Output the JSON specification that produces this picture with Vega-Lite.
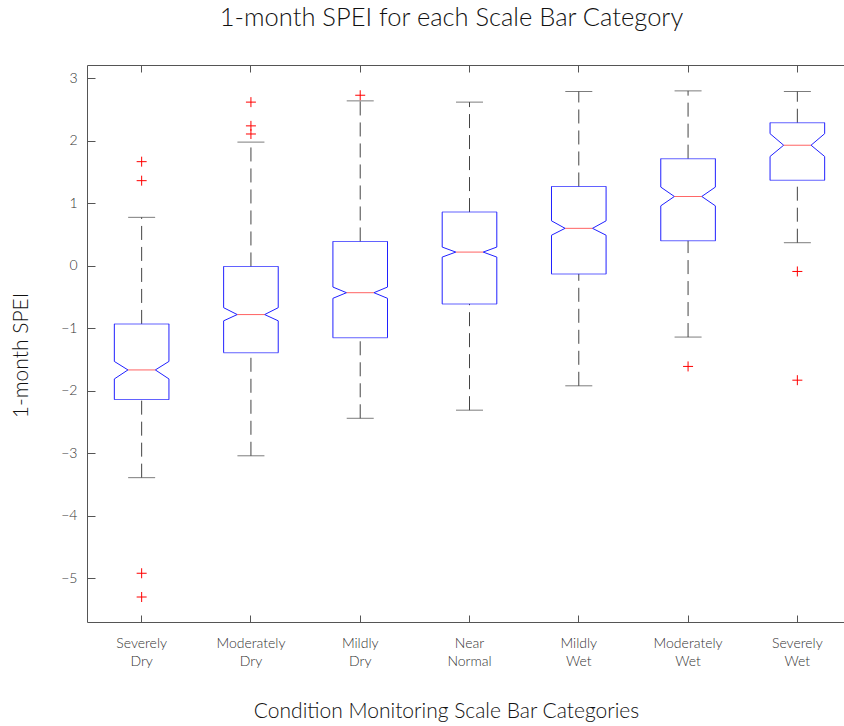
{
  "$schema": "https://vega.github.io/schema/vega-lite/v6.json",
  "autosize": {"type": "none"},
  "padding": {"left": 87, "top": 65, "right": 0, "bottom": 104},
  "width": 765,
  "height": 557,
  "background": "white",
  "title": {"text": "1-month SPEI for each Scale Bar Category", "font": "Lato", "fontSize": 25.5, "fontWeight": 300, "color": "#111", "anchor": "middle", "dx": -18, "baseline": "alphabetic", "offset": 13},
  "config": {
    "view": {"stroke": null},
    "axis": {"grid": false, "domainColor": "#555", "tickColor": "#555", "labelColor": "#333", "labelFont": "Lato", "titleFont": "Lato", "labelFontWeight": 300, "titleFontWeight": 300, "titleColor": "#111"}
  },
  "datasets": {
    "stats": [
      {"cat": "Severely Dry", "lo": -3.39, "q1": -2.14, "nlo": -1.81, "med": -1.666, "nhi": -1.53, "q3": -0.93, "hi": 0.776},
      {"cat": "Moderately Dry", "lo": -3.04, "q1": -1.39, "nlo": -0.88, "med": -0.78, "nhi": -0.67, "q3": -0.01, "hi": 1.98},
      {"cat": "Mildly Dry", "lo": -2.44, "q1": -1.15, "nlo": -0.52, "med": -0.43, "nhi": -0.34, "q3": 0.39, "hi": 2.64},
      {"cat": "Near Normal", "lo": -2.31, "q1": -0.61, "nlo": 0.14, "med": 0.22, "nhi": 0.3, "q3": 0.86, "hi": 2.62},
      {"cat": "Mildly Wet", "lo": -1.92, "q1": -0.13, "nlo": 0.49, "med": 0.6, "nhi": 0.72, "q3": 1.27, "hi": 2.79},
      {"cat": "Moderately Wet", "lo": -1.14, "q1": 0.4, "nlo": 0.96, "med": 1.11, "nhi": 1.26, "q3": 1.715, "hi": 2.8},
      {"cat": "Severely Wet", "lo": 0.37, "q1": 1.37, "nlo": 1.75, "med": 1.93, "nhi": 2.115, "q3": 2.29, "hi": 2.79}
    ],
    "outliers": [
      {"cat": "Severely Dry", "v": 1.667},
      {"cat": "Severely Dry", "v": 1.363},
      {"cat": "Severely Dry", "v": -4.92},
      {"cat": "Severely Dry", "v": -5.3},
      {"cat": "Moderately Dry", "v": 2.62},
      {"cat": "Moderately Dry", "v": 2.24},
      {"cat": "Moderately Dry", "v": 2.11},
      {"cat": "Mildly Dry", "v": 2.73},
      {"cat": "Moderately Wet", "v": -1.61},
      {"cat": "Severely Wet", "v": -0.09},
      {"cat": "Severely Wet", "v": -1.83}
    ]
  },
  "data": {"name": "stats"},
  "layer": [
    {
      "mark": {"type": "rule", "color": "#444", "strokeWidth": 1, "strokeDash": [14, 7]},
      "encoding": {
        "x": {"field": "cat", "type": "nominal", "sort": null, "scale": {"paddingInner": 0, "paddingOuter": 0},
          "axis": {"orient": "bottom", "labelExpr": "split(datum.label, ' ')", "labelAngle": 0, "labelBaseline": "top", "labelLineHeight": 18, "labelFontSize": 14, "tickSize": -7, "labelPadding": 21, "title": "Condition Monitoring Scale Bar Categories", "titleFontSize": 21, "titleX": 359, "titleY": 95, "titleBaseline": "alphabetic", "titleAlign": "center"}},
        "y": {"field": "q3", "type": "quantitative", "scale": {"domain": [-5.7, 3.214], "nice": false, "zero": false},
          "axis": {"orient": "left", "values": [-5, -4, -3, -2, -1, 0, 1, 2, 3], "tickSize": -8, "labelPadding": 18, "labelFontSize": 14, "title": "1-month SPEI", "titleFontSize": 21, "titleAngle": -90, "titleX": -66, "titleY": 290, "titleBaseline": "middle", "titleAlign": "center"}},
        "y2": {"field": "hi"}
      }
    },
    {
      "mark": {"type": "rule", "color": "#444", "strokeWidth": 1, "strokeDash": [14, 7]},
      "encoding": {
        "x": {"field": "cat", "type": "nominal", "sort": null, "axis": null},
        "y": {"field": "lo", "type": "quantitative", "axis": null},
        "y2": {"field": "q1"}
      }
    },
    {
      "mark": {"type": "tick", "color": "#444", "size": 27, "thickness": 1},
      "encoding": {
        "x": {"field": "cat", "type": "nominal", "sort": null,
          "axis": {"orient": "top", "labels": false, "tickSize": -7, "title": null, "labelAngle": 0}},
        "y": {"field": "hi", "type": "quantitative",
          "axis": {"orient": "right", "labels": false, "tickSize": -8, "values": [-5, -4, -3, -2, -1, 0, 1, 2, 3], "title": null}}
      }
    },
    {
      "mark": {"type": "tick", "color": "#444", "size": 27, "thickness": 1},
      "encoding": {
        "x": {"field": "cat", "type": "nominal", "sort": null, "axis": null},
        "y": {"field": "lo", "type": "quantitative", "axis": null}
      }
    },
    {
      "mark": {"type": "tick", "color": "#2020ff", "size": 55, "thickness": 1},
      "encoding": {
        "x": {"field": "cat", "type": "nominal", "sort": null, "axis": null},
        "y": {"field": "q3", "type": "quantitative", "axis": null}
      }
    },
    {
      "mark": {"type": "tick", "color": "#2020ff", "size": 55, "thickness": 1},
      "encoding": {
        "x": {"field": "cat", "type": "nominal", "sort": null, "axis": null},
        "y": {"field": "q1", "type": "quantitative", "axis": null}
      }
    },
    {
      "mark": {"type": "rule", "color": "#2020ff", "strokeWidth": 1, "xOffset": -27.3},
      "encoding": {
        "x": {"field": "cat", "type": "nominal", "sort": null, "axis": null},
        "y": {"field": "q3", "type": "quantitative", "axis": null},
        "y2": {"field": "nhi"}
      }
    },
    {
      "mark": {"type": "rule", "color": "#2020ff", "strokeWidth": 1, "xOffset": 27.3},
      "encoding": {
        "x": {"field": "cat", "type": "nominal", "sort": null, "axis": null},
        "y": {"field": "q3", "type": "quantitative", "axis": null},
        "y2": {"field": "nhi"}
      }
    },
    {
      "mark": {"type": "rule", "color": "#2020ff", "strokeWidth": 1, "xOffset": -27.3},
      "encoding": {
        "x": {"field": "cat", "type": "nominal", "sort": null, "axis": null},
        "y": {"field": "nlo", "type": "quantitative", "axis": null},
        "y2": {"field": "q1"}
      }
    },
    {
      "mark": {"type": "rule", "color": "#2020ff", "strokeWidth": 1, "xOffset": 27.3},
      "encoding": {
        "x": {"field": "cat", "type": "nominal", "sort": null, "axis": null},
        "y": {"field": "nlo", "type": "quantitative", "axis": null},
        "y2": {"field": "q1"}
      }
    },
    {
      "mark": {"type": "rule", "color": "#2020ff", "strokeWidth": 1, "xOffset": -27.3, "x2Offset": -13.7},
      "encoding": {
        "x": {"field": "cat", "type": "nominal", "sort": null, "axis": null},
        "x2": {"field": "cat"},
        "y": {"field": "nhi", "type": "quantitative", "axis": null},
        "y2": {"field": "med"}
      }
    },
    {
      "mark": {"type": "rule", "color": "#2020ff", "strokeWidth": 1, "xOffset": 27.3, "x2Offset": 13.7},
      "encoding": {
        "x": {"field": "cat", "type": "nominal", "sort": null, "axis": null},
        "x2": {"field": "cat"},
        "y": {"field": "nhi", "type": "quantitative", "axis": null},
        "y2": {"field": "med"}
      }
    },
    {
      "mark": {"type": "rule", "color": "#2020ff", "strokeWidth": 1, "xOffset": -27.3, "x2Offset": -13.7},
      "encoding": {
        "x": {"field": "cat", "type": "nominal", "sort": null, "axis": null},
        "x2": {"field": "cat"},
        "y": {"field": "nlo", "type": "quantitative", "axis": null},
        "y2": {"field": "med"}
      }
    },
    {
      "mark": {"type": "rule", "color": "#2020ff", "strokeWidth": 1, "xOffset": 27.3, "x2Offset": 13.7},
      "encoding": {
        "x": {"field": "cat", "type": "nominal", "sort": null, "axis": null},
        "x2": {"field": "cat"},
        "y": {"field": "nlo", "type": "quantitative", "axis": null},
        "y2": {"field": "med"}
      }
    },
    {
      "mark": {"type": "tick", "color": "#ff2020", "size": 27.4, "thickness": 1},
      "encoding": {
        "x": {"field": "cat", "type": "nominal", "sort": null, "axis": null},
        "y": {"field": "med", "type": "quantitative", "axis": null}
      }
    },
    {
      "data": {"name": "outliers"},
      "mark": {"type": "point", "shape": "M-1,0L1,0M0,-1L0,1", "size": 100, "filled": false, "stroke": "#ff0000", "strokeWidth": 1, "opacity": 1},
      "encoding": {
        "x": {"field": "cat", "type": "nominal", "sort": null, "axis": null},
        "y": {"field": "v", "type": "quantitative", "axis": null}
      }
    }
  ]
}
